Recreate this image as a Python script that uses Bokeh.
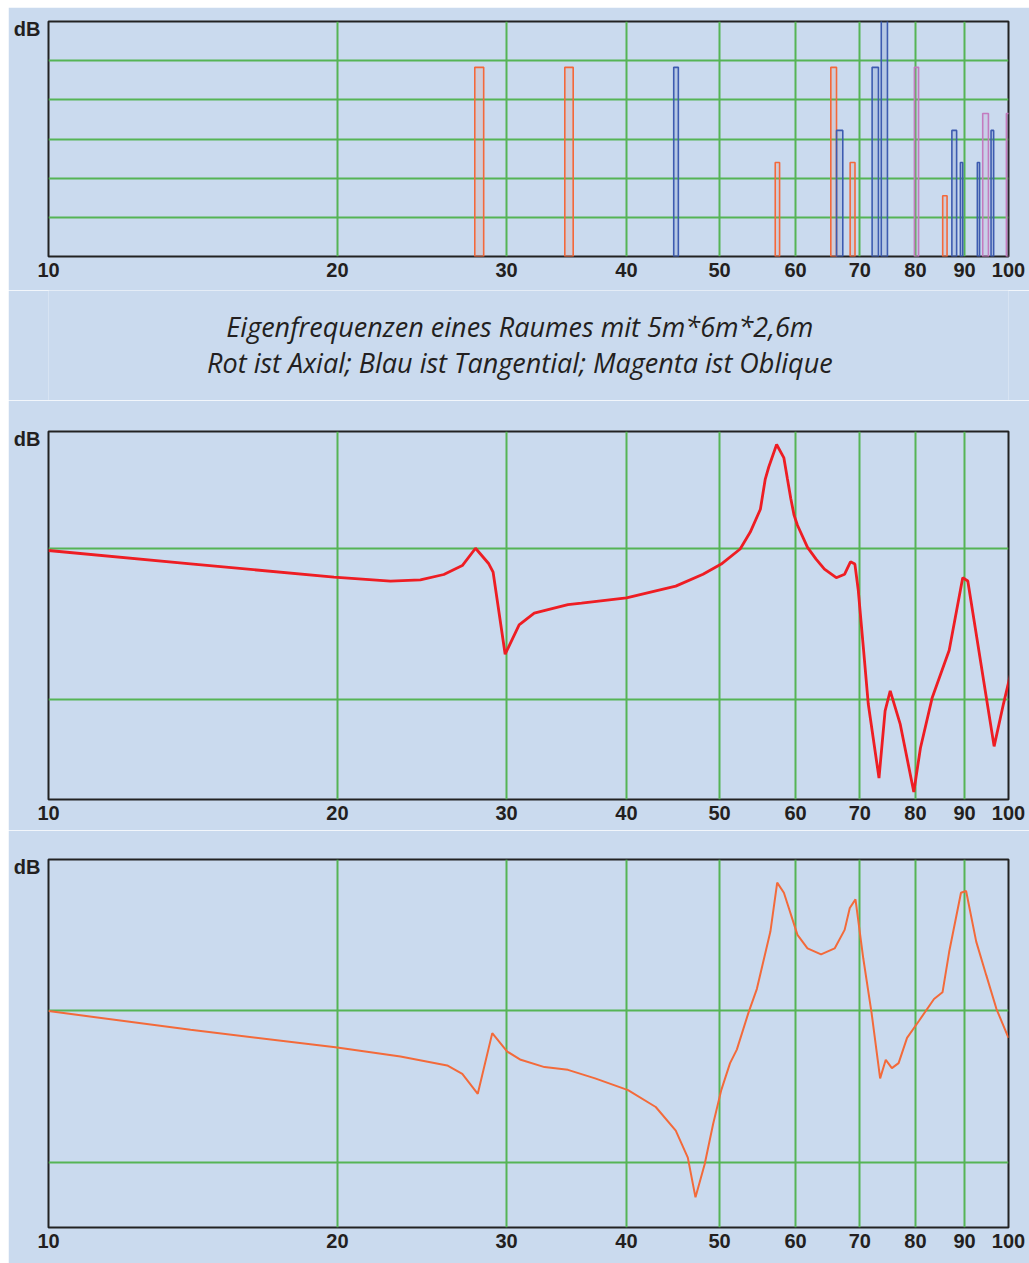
from bokeh.plotting import figure
from bokeh.layouts import column, row
from bokeh.models import Range1d, FixedTicker, ColumnDataSource, Spacer
from bokeh.core.properties import value
from bokeh.embed import file_html
from bokeh.resources import INLINE

# ---------------- data ----------------
freq_ticks = [10, 20, 30, 40, 50, 60, 70, 80, 90, 100]
freq_tick_labels = ["10", "20", "30", "40", "50", "60", "70", "80", "90", "100"]

# mode spectrum (top chart): bar edges in Hz and level
axial_left = [27.8, 34.5, 57.15, 65.3, 68.4, 85.4]
axial_right = [28.4, 35.2, 57.75, 66.2, 69.2, 86.3]
axial_level = [48.3, 48.3, 24.0, 48.3, 24.0, 15.5]

tang_left = [44.8, 66.2, 72.1, 73.7, 87.3, 89.1, 92.8, 95.9]
tang_right = [45.3, 67.2, 73.2, 74.8, 88.3, 89.6, 93.3, 96.5]
tang_level = [48.3, 32.2, 48.3, 65.0, 32.2, 24.0, 24.0, 32.2]

obl_left = [79.8, 94.0, 99.5]
obl_right = [80.6, 95.3, 102.3]
obl_level = [48.3, 36.5, 36.5]

top_grid = [10, 20, 30, 40, 50]

# middle chart (red response)
freq_mid = [10, 14.06, 19.83, 22.71, 24.4, 25.81, 26.98, 27.85, 28.75, 29.05,
            29.9, 30.92, 32.06, 34.76, 35.91, 40.0, 45.02, 48.06, 50.21, 52.54,
            53.83, 55.15, 55.8, 56.27, 57.34, 58.35, 58.83, 59.32, 59.79, 60.28,
            61.75, 63.03, 64.31, 66.16, 67.5,
            68.45, 69.18, 69.73, 70.59, 71.44, 73.3, 74.38, 75.3, 77.14, 79.68,
            80.96, 83.29, 86.74, 89.6, 90.7, 94.82, 96.61, 98.79, 100.5]
db_mid = [-0.13, -1.01, -1.90, -2.16, -2.07, -1.72, -1.13, 0.02, -1.01, -1.57,
          -7.0, -5.06, -4.28, -3.72, -3.62, -3.27, -2.49, -1.70, -1.03, -0.03,
          1.09, 2.6, 4.6, 5.4, 6.89, 6.0, 4.66, 3.32, 2.21, 1.54,
          0.08, -0.7, -1.37, -1.93, -1.70,
          -0.88, -1.03, -2.71, -6.51, -10.3, -15.2, -10.75, -9.42, -11.65, -16.12,
          -13.21, -9.86, -6.73, -1.93, -2.15, -9.86, -13.1, -10.3, -8.3]

# bottom chart (orange response)
freq_bot = [10, 14.06, 19.9, 23.26, 26.02, 26.98, 28.0, 28.99, 30.05, 31.04,
            32.86, 34.76, 37.1, 40.15, 42.91, 45.02, 46.34, 47.2, 48.25, 49.24,
            50.21, 51.28, 52.12, 53.6, 54.69, 56.49, 57.42, 58.35, 60.28, 61.75,
            63.79, 65.9, 67.5, 68.34, 69.28, 70.59, 72.0, 73.5, 74.5, 75.6,
            76.83, 78.4, 80.66, 83.64, 85.36, 86.74, 89.23, 90.33, 92.55, 94.82,
            97.16, 100]
db_bot = [-0.04, -1.27, -2.41, -3.02, -3.61, -4.16, -5.47, -1.49, -2.7, -3.24,
          -3.72, -3.90, -4.46, -5.23, -6.34, -7.89, -9.66, -12.27, -10.1, -7.45,
          -5.23, -3.46, -2.57, -0.14, 1.42, 5.18, 8.39, 7.73, 4.96, 4.07,
          3.68, 4.07, 5.29, 6.73, 7.29, 3.41, -0.14, -4.46, -3.24, -3.79,
          -3.46, -1.80, -0.69, 0.75, 1.19, 3.85, 7.73, 7.84, 4.52, 2.30,
          0.09, -1.80]
resp_grid = [-10, 0]

title_lines = ["Eigenfrequenzen eines Raumes mit 5m*6m*2,6m",
               "Rot ist Axial; Blau ist Tangential; Magenta ist Oblique"]
y_unit_label = "dB"

# ---------------- style ----------------
BG = "#CADAEE"
GRID = "#55B455"
FRAME = "#222222"
TXT = "#231F20"
W = 1021
LABEL_SIZE = "20px"


def make_fig(height, y_lo, y_hi, b_top, b_bottom, grid_ticks):
    p = figure(width=W, height=height, x_axis_type="log",
               x_range=Range1d(10, 100), y_range=Range1d(y_lo, y_hi),
               output_backend="svg", toolbar_location=None,
               min_border_left=40, min_border_right=21,
               min_border_top=b_top, min_border_bottom=b_bottom)
    p.background_fill_color = BG
    p.border_fill_color = BG
    p.outline_line_color = FRAME
    p.outline_line_width = 2
    frame_h = height - b_top - b_bottom
    # y axis only carries the unit label "dB" near the top of the frame
    y_pos = y_hi - 7.0 * (y_hi - y_lo) / frame_h
    yax = p.yaxis[0]
    yax.ticker = FixedTicker(ticks=[y_pos])
    yax.major_label_overrides = {y_pos: y_unit_label}
    yax.major_tick_in = 0
    yax.major_tick_out = 0
    yax.minor_tick_in = 0
    yax.minor_tick_out = 0
    yax.axis_line_color = None
    yax.major_label_standoff = 8
    yax.major_label_text_font = "Liberation Sans"
    yax.major_label_text_font_style = "bold"
    yax.major_label_text_font_size = LABEL_SIZE
    yax.major_label_text_color = TXT
    ax = p.xaxis[0]
    ax.ticker = FixedTicker(ticks=freq_ticks)
    ax.major_label_overrides = {t: l for t, l in zip(freq_ticks, freq_tick_labels)}
    ax.major_tick_in = 0
    ax.major_tick_out = 0
    ax.minor_tick_in = 0
    ax.minor_tick_out = 0
    ax.axis_line_color = None
    ax.major_label_standoff = 6
    ax.major_label_text_font = "Liberation Sans"
    ax.major_label_text_font_style = "bold"
    ax.major_label_text_font_size = LABEL_SIZE
    ax.major_label_text_color = TXT
    p.xgrid.ticker = FixedTicker(ticks=freq_ticks)
    p.xgrid.grid_line_color = GRID
    p.xgrid.grid_line_width = 2
    p.ygrid.ticker = FixedTicker(ticks=grid_ticks)
    p.ygrid.grid_line_color = GRID
    p.ygrid.grid_line_width = 2
    return p


# top chart: modes
p1 = make_fig(283, 0, 60, 14, 34, top_grid)
p1.quad(left=axial_left, right=axial_right, bottom=0, top=axial_level,
        fill_color="#F4683A", fill_alpha=0.12, line_color="#F4683A", line_width=1.6)
p1.quad(left=tang_left, right=tang_right, bottom=0, top=tang_level,
        fill_color="#3D5BB0", fill_alpha=0.15, line_color="#3D5BB0", line_width=1.6)
p1.quad(left=obl_left, right=obl_right, bottom=0, top=obl_level,
        fill_color="#C37BBF", fill_alpha=0.12, line_color="#C37BBF", line_width=1.6)

# title block
pt = figure(width=W, height=110, x_range=Range1d(0, 1), y_range=Range1d(0, 110),
            output_backend="svg", toolbar_location=None,
            x_axis_location=None, y_axis_location=None, min_border=0)
pt.background_fill_color = BG
pt.border_fill_color = BG
pt.outline_line_color = None
pt.xgrid.visible = False
pt.ygrid.visible = False
src_t = ColumnDataSource(dict(x=[0.491, 0.491], y=[74, 38], t=title_lines))
pt.text(x="x", y="y", text="t", source=src_t, text_align="center",
        text_baseline="middle", text_font=value("Open Sans"),
        text_font_style="italic", text_font_size="27px", text_color=TXT)

# middle chart
p2 = make_fig(430, -16.62, 7.75, 31, 31, resp_grid)
p2.line(freq_mid, db_mid, line_color="#EE1D23", line_width=2.8)

# bottom chart
p3 = make_fig(433, -14.25, 9.91, 29, 36, resp_grid)
p3.line(freq_bot, db_bot, line_color="#F36A3A", line_width=2.0)

charts = column(p1, pt, p2, p3, spacing=0)
layout = column(Spacer(height=7), row(Spacer(width=8), charts, spacing=0), spacing=0)
open("out.html", "w").write(file_html(layout, INLINE))
